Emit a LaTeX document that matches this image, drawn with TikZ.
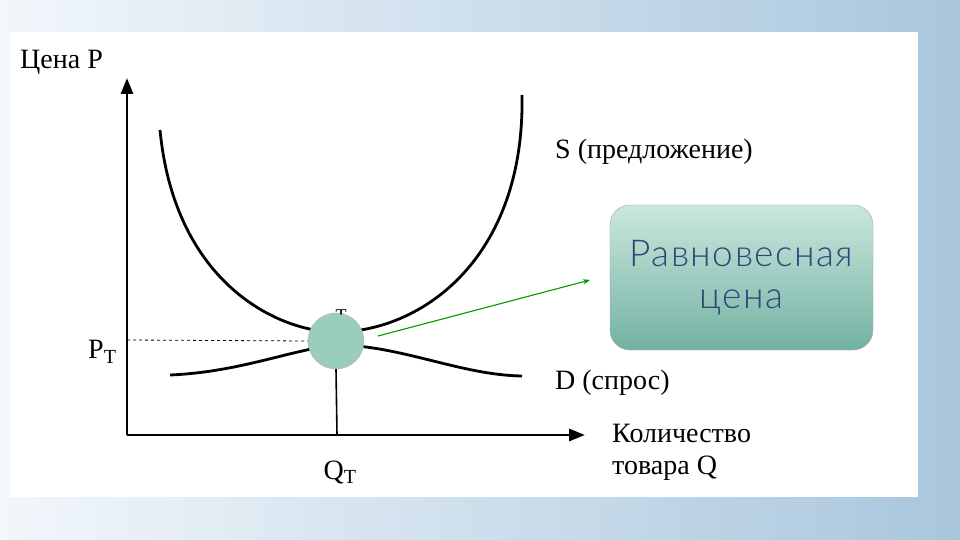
\documentclass[tikz,border=0pt]{standalone}
\usepackage{fontspec}
\setmainfont{Liberation Serif}
\newfontfamily\boxfont[LetterSpace=4]{Lato Light}
\usetikzlibrary{arrows.meta}
\definecolor{bgA}{HTML}{F2F7FB}
\definecolor{bgB}{HTML}{A9C6DD}
\definecolor{boxT}{HTML}{CBE7DE}
\definecolor{boxB}{HTML}{72B2A2}
\definecolor{ballC}{HTML}{9ACDBD}
\definecolor{txtB}{HTML}{2B4878}
\tikzset{curve/.style={line width=2.8pt},axis/.style={line width=2.8pt,-{Triangle[length=16pt,width=12pt]}},
lab/.style={font=\fontsize{28}{30}\selectfont,inner sep=0pt}}
\begin{document}
\begin{tikzpicture}[x=1pt,y=-1pt]
\shade[left color=bgA,right color=bgB] (0,0) rectangle (960,540);
\useasboundingbox (0,0) rectangle (960,540);
\fill[white] (10,32) rectangle (918,497);
\coordinate (o) at (127,435);
\coordinate (yt) at (127,78);
\coordinate (xr) at (585,435);
\draw[axis] (o) -- (yt);
\draw[axis] (o) -- (xr);
\draw[curve] (160,130) .. controls (175,285) and (280,332) .. (336,332) .. controls (420,332) and (525,260) .. (522,95);
\draw[curve] (170,375) .. controls (240,372) and (290,350) .. (336,345) .. controls (400,345) and (460,375) .. (522,376);
\node[circle,fill=ballC,draw=gray!60,minimum size=56pt,inner sep=0pt] (eq) at (336,341) {};
\node[lab] (T) at (341,316) {\fontsize{18}{18}\selectfont T};
\fill[ballC] (336,341) circle (27pt);
\draw[dashed,line width=0.8pt] (127,340) -- (eq.west);
\coordinate (qa) at (337,435);
\draw[line width=1.6pt] (eq.south) -- (qa);
\node[rounded corners=20pt,draw=gray!70,top color=boxT,bottom color=boxB,minimum width=263pt,minimum height=145pt,
 align=center,text=txtB,font=\boxfont\fontsize{37}{42}\selectfont] (box) at (741.5,277.5) {Равновесная\\цена};
\coordinate (at) at (590,280);
\draw[green!60!black,line width=1.1pt,-{Stealth[length=7pt]}] (378,336) -- (at);
\node[lab,anchor=west] (p) at (20,62) {Цена P};
\node[lab,anchor=west] (s) at (555,152) {S (предложение)};
\node[lab,anchor=west] (d) at (555,383) {D (спрос)};
\node[lab,anchor=west] (pt) at (88,352) {P\textsubscript{\fontsize{20}{20}\selectfont T}};
\node[lab] (qt) at (340,472) {Q\textsubscript{\fontsize{20}{20}\selectfont T}};
\node[lab,anchor=north west,align=left,font=\fontsize{28}{32}\selectfont] (q) at (612,424) {Количество\\товара Q};
\end{tikzpicture}
\end{document}
